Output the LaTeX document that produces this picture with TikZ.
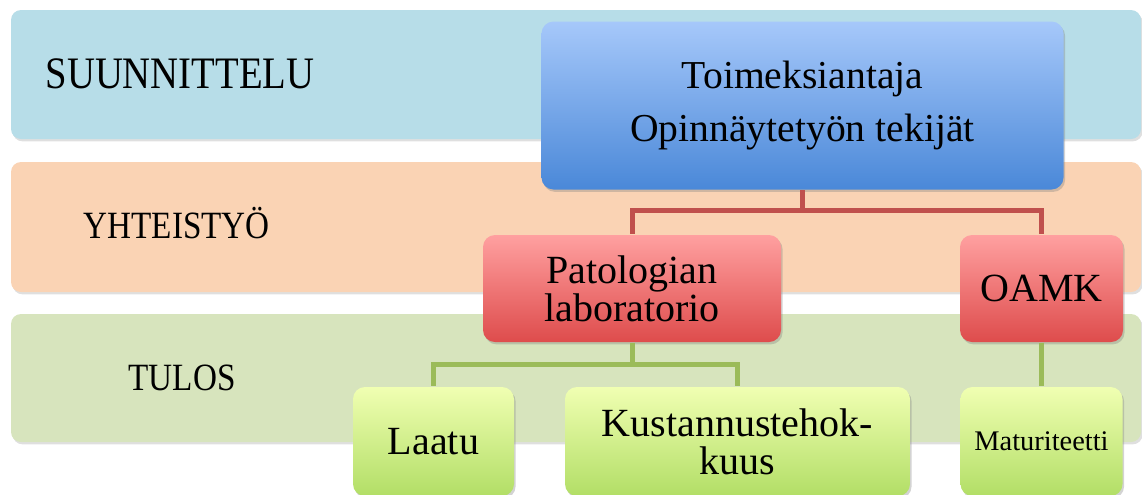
\documentclass[tikz,border=0pt]{standalone}
\usepackage{fontspec}
\setmainfont{Liberation Serif}[FakeStretch=0.86]
\newfontfamily\boxfont{Liberation Serif}
\usetikzlibrary{shadows,positioning}

\definecolor{bandblue}{HTML}{B7DDE8}
\definecolor{bandorange}{HTML}{FAD3B4}
\definecolor{bandgreen}{HTML}{D7E4BD}
\definecolor{linered}{HTML}{C0504D}
\definecolor{linegreen}{HTML}{9BBB59}
\definecolor{bluetop}{RGB}{166,200,250}
\definecolor{bluebot}{RGB}{74,136,216}
\definecolor{redtop}{RGB}{255,160,160}
\definecolor{redbot}{RGB}{222,76,76}
\definecolor{greentop}{RGB}{240,255,178}
\definecolor{greenbot}{RGB}{178,222,102}

\begin{document}
\begin{tikzpicture}[x=0.5pt, y=-0.5pt, semithick]
\tikzstyle{band}=[rounded corners=5pt, draw=none, drop shadow={opacity=0.25, shadow xshift=0.8pt, shadow yshift=-1.2pt}]
\tikzstyle{bandlabel}=[anchor=base west, inner sep=0pt, text=black]
\tikzstyle{orgbox}=[rounded corners=6pt, draw=none, align=center, inner sep=2pt, drop shadow={opacity=0.35, shadow xshift=0.8pt, shadow yshift=-1.2pt}]
\tikzstyle{topbox}=[orgbox, top color=bluetop, bottom color=bluebot, minimum width=261pt, minimum height=84pt]
\tikzstyle{redbox}=[orgbox, top color=redtop, bottom color=redbot, minimum height=53.5pt]
\tikzstyle{greenbox}=[orgbox, top color=greentop, bottom color=greenbot, minimum height=54.5pt]
\tikzstyle{redline}=[draw=linered, line width=2.5pt]
\tikzstyle{greenline}=[draw=linegreen, line width=2.5pt]

\useasboundingbox (0,0) rectangle (1142,494);

% taustakaistat
\fill[band, bandblue] (11,10) rectangle (1141,139);
\fill[band, bandorange] (11,162) rectangle (1141,292);
\fill[band, bandgreen] (11,314) rectangle (1141,442);

\node[bandlabel, font=\fontsize{22.5}{26}\selectfont] (suun) at (45,88) {SUUNNITTELU};
\node[bandlabel, font=\fontsize{19.3}{24}\selectfont] (yht) at (83,238) {YHTEISTYÖ};
\node[bandlabel, font=\fontsize{19.3}{24}\selectfont] (tulos) at (128,390) {TULOS};

% laatikot
\node[topbox, font=\boxfont\fontsize{19.8}{26.5}\selectfont] (top) at (802.5,105.5) {Toimeksiantaja\\Opinnäytetyön tekijät};
\node[redbox, minimum width=149pt, font=\boxfont\fontsize{20}{19}\selectfont] (pato) at (632,288.5) {Patologian\\laboratorio};
\node[redbox, minimum width=81.5pt, font=\boxfont\fontsize{20}{19}\selectfont] (oamk) at (1041.5,288.5) {OAMK};
\node[greenbox, minimum width=80.5pt, font=\boxfont\fontsize{20}{19}\selectfont] (laatu) at (433.5,441.5) {Laatu};
\node[greenbox, minimum width=172.5pt, font=\boxfont\fontsize{20}{19}\selectfont] (kust) at (737.5,441.5) {Kustannustehok-\\kuus};
\node[greenbox, minimum width=81pt, font=\boxfont\fontsize{14.2}{16}\selectfont] (matu) at (1041.5,441.5) {Maturiteetti};

% yhteydet
\coordinate (redbar) at (802.5,210);
\coordinate (greenbar) at (632,364);
\draw[redline] (top.south) -- (redbar) -| (pato.north);
\draw[redline] (redbar) -| (oamk.north);
\draw[greenline] (pato.south) -- (greenbar) -| (laatu.north);
\draw[greenline] (greenbar) -| (kust.north);
\draw[greenline] (oamk.south) -- (matu.north);
\end{tikzpicture}
\end{document}
